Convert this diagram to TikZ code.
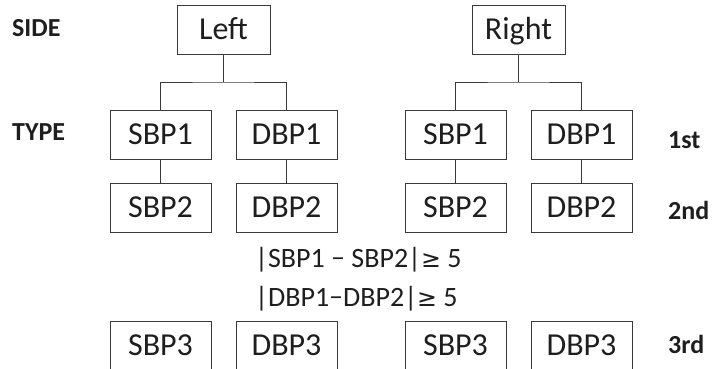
\documentclass[tikz,border=0pt]{standalone}
\usepackage{fontspec}
\setmainfont{Carlito}
\newfontfamily\symfont[Scale=0.85]{DejaVu Sans}
\definecolor{linegray}{HTML}{3A3A3A}
\definecolor{textgray}{HTML}{1E1E1E}
\newcommand{\mygeq}{{\symfont ≥}}
\newcommand{\myminus}{\raisebox{0.5pt}{\textendash}}
\begin{document}
\begin{tikzpicture}[x=1pt,y=-1pt,
  box/.style={draw=linegray, line width=0.9pt, minimum width=101pt, minimum height=49pt,
    inner sep=0pt, text height=20.6pt, text depth=0pt, text=textgray,
    font=\fontsize{32}{38}\selectfont},
  topbox/.style={box, minimum width=93pt},
  lab/.style={anchor=west, inner sep=0pt, text=textgray,
    font=\bfseries\fontsize{26}{30}\selectfont, text height=16.7pt, text depth=0pt},
  formula/.style={anchor=base west, inner sep=0pt, text=textgray,
    font=\fontsize{28}{32}\selectfont},
  conn/.style={draw=linegray, line width=0.9pt}]
\useasboundingbox (0,0) rectangle (713,369);
\clip (0,0) rectangle (713,369);

% top level
\node[topbox] (L) at (223.5,29.5) {Left};
\node[topbox] (R) at (518.5,29.5) {Right};

% row 1
\node[box] (LS1) at (160.5,134.5) {SBP1};
\node[box] (LD1) at (286.5,134.5) {DBP1};
\node[box] (RS1) at (455.5,134.5) {SBP1};
\node[box] (RD1) at (581.5,134.5) {DBP1};

% row 2
\node[box] (LS2) at (160.5,207.5) {SBP2};
\node[box] (LD2) at (286.5,207.5) {DBP2};
\node[box] (RS2) at (455.5,207.5) {SBP2};
\node[box] (RD2) at (581.5,207.5) {DBP2};

% row 3 (cut by the frame)
\node[box] (LS3) at (160.5,345.5) {SBP3};
\node[box] (LD3) at (286.5,345.5) {DBP3};
\node[box] (RS3) at (455.5,345.5) {SBP3};
\node[box] (RD3) at (581.5,345.5) {DBP3};

% labels
\node[lab] (side) at (12,27.7) {SIDE};
\node[lab] (type) at (12,132) {TYPE};
\node[lab] (first) at (668,140.5) {1st};
\node[lab] (second) at (668,211) {2nd};
\node[lab] (third) at (668,345) {3rd};

% formulas
\node[formula] (f1) at (255,267) {|SBP1 \myminus{} SBP2|\mygeq{} 5};
\node[formula] (f2) at (255,306) {|DBP1\myminus DBP2|\mygeq{} 5};

% connectors
\coordinate (Lb) at (223.5,82);
\coordinate (Rb) at (518.5,82);
\draw[conn] (L.south) -- (Lb);
\draw[conn] (LS1.north) |- (Lb) -| (LD1.north);
\draw[conn] (R.south) -- (Rb);
\draw[conn] (RS1.north) |- (Rb) -| (RD1.north);
\draw[conn] (LS1) -- (LS2);
\draw[conn] (LD1) -- (LD2);
\draw[conn] (RS1) -- (RS2);
\draw[conn] (RD1) -- (RD2);
\end{tikzpicture}
\end{document}
